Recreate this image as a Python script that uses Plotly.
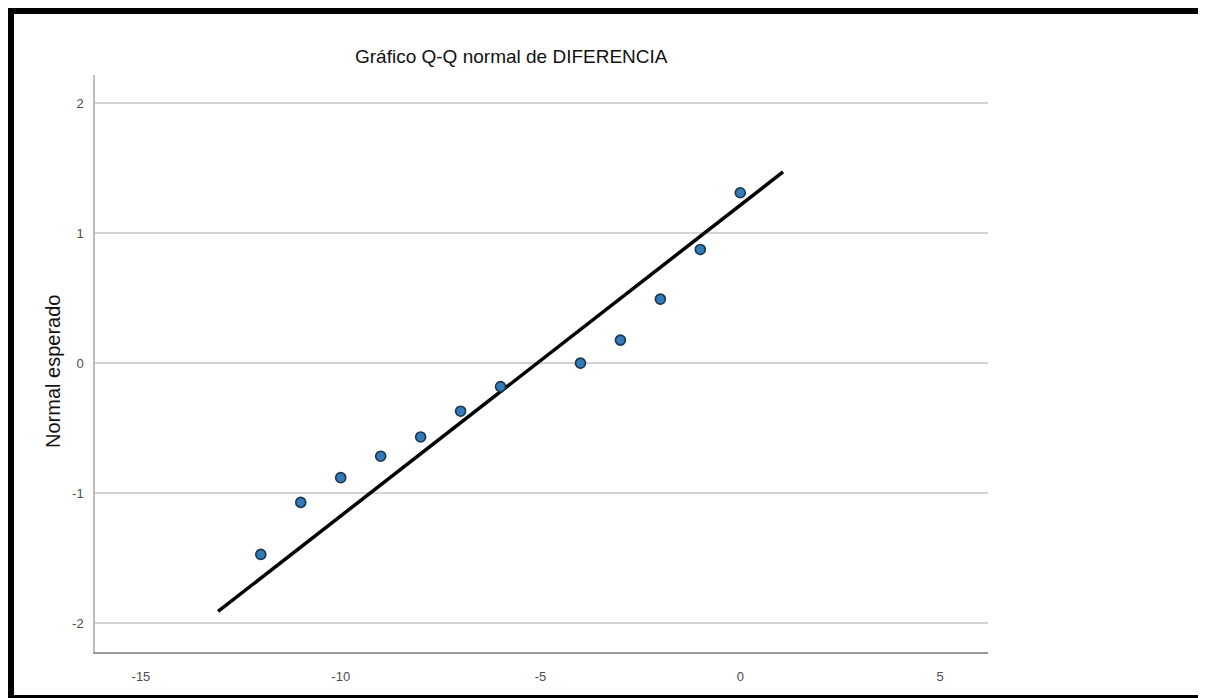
import plotly.graph_objects as go

# ---- data ----
diferencia = [-12, -11, -10, -9, -8, -7, -6, -4, -3, -2, -1, 0]
normal_esperado = [-1.47, -1.07, -0.88, -0.715, -0.567, -0.369, -0.18, 0.0, 0.177, 0.492, 0.874, 1.31]
line_x = [-13.07, 1.07]
line_y = [-1.908, 1.47]
x_ticks = [-15, -10, -5, 0, 5]
x_tick_labels = ["-15", "-10", "-5", "0", "5"]
y_ticks = [-2, -1, 0, 1, 2]
y_tick_labels = ["-2", "-1", "0", "1", "2"]
title_text = "Gráfico Q-Q normal de DIFERENCIA"
y_title_text = "Normal esperado"

OFF = 8  # page body margin
W, H = 1206 - OFF, 698 - OFF
L, R, T, B = 95 - OFF, 988 - OFF, 75 - OFF, 652 - OFF  # plot area in figure pixels


def px(xp):
    return (xp - OFF - L) / (R - L)


def py(yp):
    return (B - (yp - OFF)) / (B - T)


fig = go.Figure()
fig.add_trace(go.Scatter(
    x=line_x, y=line_y, mode="lines",
    line=dict(color="black", width=3.5), hoverinfo="skip", showlegend=False))
fig.add_trace(go.Scatter(
    x=diferencia, y=normal_esperado, mode="markers",
    marker=dict(size=10, color="#3479b8", line=dict(color="#173650", width=1.6)),
    showlegend=False))

font_family = "Liberation Sans, Arial, sans-serif"

fig.update_layout(
    width=W, height=H,
    margin=dict(l=L, r=W - R, t=T, b=H - B, pad=0),
    paper_bgcolor="white", plot_bgcolor="white",
    font=dict(family=font_family, size=13, color="#555555"),
    xaxis=dict(range=[-16.15, 6.2], tickvals=x_ticks, ticktext=x_tick_labels,
               showgrid=False, zeroline=False, showline=True,
               linecolor="#9a9a9a", linewidth=2,
               ticks="", ticklabelstandoff=11,
               tickfont=dict(size=13, color="#4d4d4d")),
    yaxis=dict(range=[-2.22, 2.215], tickvals=y_ticks, ticktext=y_tick_labels,
               showgrid=True, gridcolor="#d4d4d4", gridwidth=1.5, zeroline=False,
               showline=True, linecolor="#bdbdbd", linewidth=1.5,
               ticks="", ticklabelstandoff=7,
               tickfont=dict(size=13, color="#4d4d4d")),
    annotations=[
        dict(text=title_text, x=px(511), y=py(56), xref="paper", yref="paper",
             xanchor="center", yanchor="middle", showarrow=False,
             font=dict(family=font_family, size=19, color="#111111")),
        dict(text=y_title_text, x=px(53), y=py(372), xref="paper", yref="paper",
             xanchor="center", yanchor="middle", showarrow=False, textangle=-90,
             font=dict(family=font_family, size=20, color="#111111")),
    ],
)

# black image frame (thick top/left, thin right/bottom), in page pixels
frame = [
    (8, 8, 1205, 14),
    (8, 8, 14, 698),
    (1203, 8, 1205, 698),
    (8, 695, 1205, 698),
]
for x0, y0, x1, y1 in frame:
    fig.add_shape(type="rect", xref="paper", yref="paper",
                  x0=px(x0), x1=px(x1), y0=py(y1), y1=py(y0),
                  fillcolor="black", line=dict(width=0), layer="above")

fig.write_html("out.html")
